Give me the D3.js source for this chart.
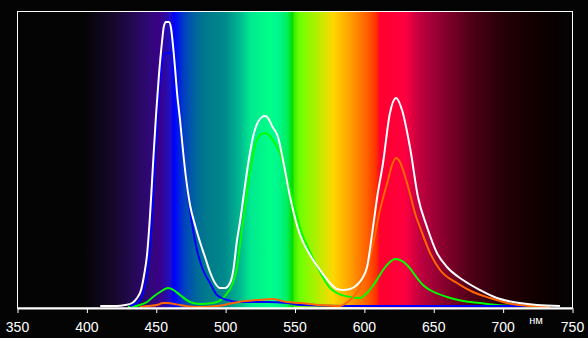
<!DOCTYPE html>
<html>
<head>
<meta charset="utf-8">
<script src="https://cdn.jsdelivr.net/npm/d3@7"></script>
<style>
  html, body { margin: 0; padding: 0; background: #040404; }
  svg { display: block; }
  text { font-family: "Liberation Sans", Arial, sans-serif; fill: #fff; }
</style>
</head>
<body>
<svg id="chart" width="588" height="338"></svg>
<script>
// wavelength ticks, nm
const ticks = [350, 400, 450, 500, 550, 600, 650, 700, 750];
const unitLabel = "нм";

// spectra: wavelength (nm) and intensity (arbitrary units)
const whiteNm = [410, 422, 428, 433, 436.5, 439.4, 441.6, 443.7, 445.9, 448, 450.2, 452.3, 454.5, 455.9, 457.4, 459.5, 461, 462.4, 463.9, 465.3, 467.5, 469.6, 471.8, 474.7, 478.3, 481.9, 485.5, 489.1, 492.7, 496.3, 499.9, 503.5, 505.7, 508.6, 510.7, 512.9, 515.1, 517.9, 520.8, 523.7, 526.6, 528.7, 530.9, 533.8, 538.1, 542.4, 546.8, 554, 561.2, 568.4, 575.6, 580.6, 585, 590, 595, 598.6, 602.3, 606.6, 609.5, 613.8, 618.8, 623.2, 627.5, 633.2, 639, 645.5, 652.7, 659.9, 671.4, 683.7, 695.9, 707.5, 724.8, 741.3];
const whiteVal = [1, 1, 2, 4, 9, 17, 32, 52, 92, 142, 192, 232, 265, 281, 285, 285, 279, 262, 239, 215, 187, 157, 129, 102, 82, 65, 50, 35, 24, 19, 19, 24, 35, 67, 85, 107, 129, 154, 174, 185, 190, 191, 189, 181, 170, 142, 110, 72, 52, 37, 24, 18, 17, 18, 22, 28, 40, 80, 109, 144, 194, 209, 197, 160, 110, 80, 54, 40, 27, 17, 9, 5, 2, 1];

const blueNm = [431.4, 438.6, 442.3, 445.1, 447.3, 449.5, 451.6, 453.8, 455.9, 458.1, 461.7, 463.9, 466, 468.2, 471.1, 474.7, 479.7, 484.1, 489.1, 494.1, 501.4, 510.7, 530.2, 544.6, 554, 590, 726.9, 730.5];
const blueVal = [1, 7, 22, 47, 87, 147, 197, 237, 252, 254, 254, 237, 207, 177, 137, 97, 57, 37, 24, 12, 7, 5, 5, 4, 2, 1, 1, 0];

const greenNm = [430, 438.6, 443.7, 448, 453.1, 458.8, 463.9, 467.5, 474.7, 481.9, 491.3, 498.5, 502.1, 505, 508.6, 510.7, 513.6, 516.5, 519.4, 522.3, 525.2, 528.7, 531.6, 535.2, 539.5, 543.9, 548.2, 554, 561.2, 568.4, 575.6, 580.6, 590, 597.2, 601.5, 605.9, 610.2, 613.8, 618.8, 622.4, 626, 631.1, 634.7, 638.3, 642.6, 647.7, 659.9, 671.4, 683.7, 695.9, 710.4, 732];
const greenVal = [0, 2, 5, 10, 15, 19, 16, 12, 5, 3, 4, 9, 15, 22, 40, 62, 92, 122, 147, 165, 172, 174, 172, 165, 154, 132, 110, 79, 55, 35, 19, 14, 10, 9, 13, 20, 29, 37, 45, 48, 47, 42, 36, 29, 22, 17, 10, 6, 4, 2, 1, 0];

const redNm = [438.6, 443.7, 450.9, 455.2, 458.8, 463.2, 467.5, 479.7, 494.1, 505.7, 514.3, 523, 534.5, 544.6, 554, 568.4, 582.8, 586.4, 590, 593.6, 597.2, 600.8, 604.4, 608, 611.6, 613.8, 617.4, 620.3, 623.2, 626, 628.2, 631.1, 634, 636.8, 640.4, 647.7, 654.9, 667.1, 678.6, 690.9, 703.2, 719.7, 734.1];
const redVal = [0, 1, 2, 4, 4, 3, 2, 0, 1, 4, 6, 7, 8, 5, 4, 2, 1, 3, 7, 12, 20, 34, 50, 72, 97, 109, 127, 142, 149, 145, 137, 124, 109, 94, 80, 54, 37, 24, 15, 9, 4, 1, 0];

// background spectrum colours
const bandStops = [
  [350, "#040404"], [398, "#040404"], [422, "#180830"], [446, "#300878"],
  [453, "#3a0088"], [460.3, "#2010c0"], [463.2, "#0000ff"], [470.4, "#0040c0"],
  [479.7, "#006a98"], [486.9, "#007a8a"], [500, "#008a8c"], [510.7, "#00b890"],
  [518, "#00e890"], [532, "#00ff88"], [537.4, "#00f890"], [544.6, "#00ee60"],
  [548.5, "#00dd00"], [550, "#40ee00"], [554, "#70ff00"], [566, "#b0f000"],
  [577.7, "#ffd800"], [590, "#ffa000"], [602.3, "#ff6000"], [609, "#ff3000"],
  [611.6, "#ff0030"], [615.2, "#ff0030"], [629.6, "#ff0040"], [640.4, "#c00040"],
  [654.9, "#900030"], [676.5, "#500018"], [698, "#280008"], [719.7, "#140000"],
  [737.7, "#080000"], [748.6, "#040404"], [750, "#040404"]
];

const svg = d3.select("#chart");
const frame = {left: 17, right: 572, top: 11, bottom: 308};

const x = d3.scaleLinear().domain([350, 750]).range([frame.left, frame.right]);
const y = d3.scaleLinear().domain([0, 296]).range([frame.bottom - 1, frame.top]);

const defs = svg.append("defs");
const grad = defs.append("linearGradient")
    .attr("id", "spectrum")
    .attr("gradientUnits", "userSpaceOnUse")
    .attr("x1", x(350)).attr("x2", x(750))
    .attr("y1", 0).attr("y2", 0);
grad.selectAll("stop")
    .data(bandStops)
    .enter().append("stop")
    .attr("offset", d => (d[0] - 350) / 400)
    .attr("stop-color", d => d[1]);

svg.append("rect")
    .attr("x", frame.left).attr("y", frame.top)
    .attr("width", frame.right - frame.left).attr("height", frame.bottom - frame.top)
    .attr("fill", "url(#spectrum)");

const line = d3.line()
    .x(d => x(d[0]))
    .y(d => y(d[1]))
    .curve(d3.curveMonotoneX);

function drawSeries(nm, vals, color) {
    svg.append("path")
        .datum(d3.zip(nm, vals))
        .attr("d", line)
        .attr("fill", "none")
        .attr("stroke", color)
        .attr("stroke-width", 2)
        .attr("stroke-linejoin", "round");
}

drawSeries(greenNm, greenVal, "#00ff00");
drawSeries(blueNm, blueVal, "#0000ff");
drawSeries(redNm, redVal, "#ff6600");
drawSeries(whiteNm, whiteVal, "#ffffff");

// frame
svg.append("rect")
    .attr("x", frame.left + 0.5).attr("y", frame.top + 0.5)
    .attr("width", frame.right - frame.left).attr("height", frame.bottom - frame.top - 0.5)
    .attr("fill", "none")
    .attr("stroke", "#fff")
    .attr("stroke-width", 1);

const xAxis = d3.axisBottom(x)
    .tickValues(ticks)
    .tickSize(5)
    .tickSizeOuter(0)
    .tickPadding(9);

const gx = svg.append("g")
    .attr("transform", "translate(0," + frame.bottom + ")")
    .call(xAxis);
gx.select(".domain").attr("stroke", "#fff").attr("stroke-width", 2);
gx.selectAll(".tick line").attr("stroke", "#fff").attr("transform", "translate(0.5,0)");
gx.selectAll(".tick text")
    .attr("fill", "#fff")
    .style("font-size", "14px")
    .style("font-family", "'Liberation Sans', Arial, sans-serif");

svg.append("text")
    .attr("x", 536)
    .attr("y", 323.5)
    .attr("text-anchor", "middle")
    .style("font-size", "11px")
    .text(unitLabel);
</script>
</body>
</html>
